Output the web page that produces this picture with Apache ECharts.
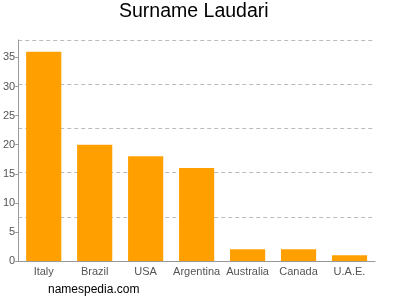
<!DOCTYPE html>
<html><head><meta charset="utf-8">
<script src="https://cdn.jsdelivr.net/npm/echarts@6/dist/echarts.min.js"></script>
<style>html,body{margin:0;padding:0;background:#fff}#c{width:400px;height:300px}</style>
</head><body><div id="c"></div>
<script>
const categories = ["Italy","Brazil","USA","Argentina","Australia","Canada","U.A.E."];
const values = [36,20,18,16,2,2,1];
const yMax = 38;
const chart = echarts.init(document.getElementById('c'), null, {renderer:'canvas'});
chart.setOption({
  animation:false,
  backgroundColor:'#fff',
  title:[{text:'Surname Laudari',left:119,top:2,padding:0,textStyle:{fontFamily:'Liberation Sans, Arial',fontSize:19.5,fontWeight:'normal',color:'#000'}},
         {text:'namespedia.com',left:48,top:284,padding:0,textStyle:{fontFamily:'Liberation Sans, Arial',fontSize:12,fontWeight:'normal',color:'#000'}}],
  grid:{left:17,right:25,top:40,bottom:39,containLabel:false},
  xAxis:{type:'category',data:categories,
    axisLine:{lineStyle:{color:'#999',width:1}},
    axisTick:{alignWithLabel:true,length:3,lineStyle:{color:'#999'}},
    axisLabel:{interval:0,color:'#555',fontFamily:'Liberation Sans, Arial',fontSize:11,margin:5}},
  yAxis:[{type:'value',min:0,max:yMax,interval:5,
    axisLine:{show:true,lineStyle:{color:'#999'}},
    axisTick:{show:true,length:3,lineStyle:{color:'#999'}},
    axisLabel:{color:'#555',fontFamily:'Liberation Sans, Arial',fontSize:11,margin:3,showMaxLabel:false},
    splitLine:{show:false}},
   {type:'value',min:0,max:yMax,interval:yMax/5,position:'left',
    axisLine:{show:false},axisTick:{show:false},axisLabel:{show:false},
    splitLine:{show:true,lineStyle:{color:'#bbb',type:[4,3],width:1}}}],
  series:[{type:'bar',data:values,yAxisIndex:0,barCategoryGap:'31%',
    itemStyle:{color:'#FFA000'}}]
});
</script></body></html>
